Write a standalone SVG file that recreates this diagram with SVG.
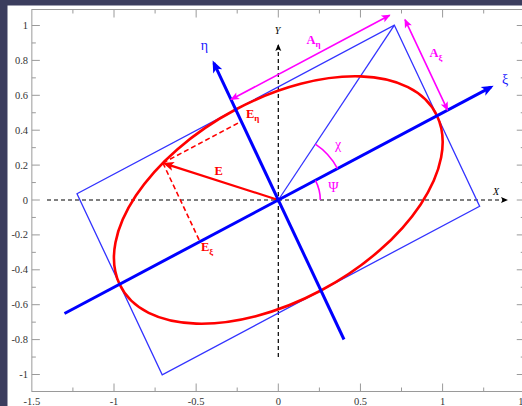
<svg xmlns="http://www.w3.org/2000/svg" width="522" height="406" viewBox="0 0 522 406">
<style>
.tick{stroke:#9a9a9a;stroke-width:1;fill:none}
.tl{font-family:"Liberation Serif",serif;font-size:10.5px;fill:#333}
.g{font-family:"Liberation Serif",serif;font-size:14px}
.b{font-family:"Liberation Serif",serif;font-weight:bold;font-size:12.5px}
.blue{fill:#1a1aff}
.mag{fill:#ff00ff}
.red{fill:#ff0000}
</style>
<defs>
<marker id="ab" viewBox="0 -6 14 12" markerWidth="14" markerHeight="12" refX="9" refY="0" markerUnits="userSpaceOnUse" orient="auto" overflow="visible"><path d="M0,-5 L12,0 L0,5 L3,0 Z" fill="#0000ff"/></marker>
<marker id="am" viewBox="0 -5 10 10" markerWidth="10" markerHeight="10" refX="8" refY="0" markerUnits="userSpaceOnUse" orient="auto-start-reverse" overflow="visible"><path d="M0,-3.8 L9,0 L0,3.8 L2,0 Z" fill="#ff00ff"/></marker>
<marker id="ar" viewBox="0 -6 12 12" markerWidth="12" markerHeight="12" refX="9" refY="0" markerUnits="userSpaceOnUse" orient="auto" overflow="visible"><path d="M0,-4.5 L11,0 L0,4.5 L2.5,0 Z" fill="#ff0000"/></marker>
<marker id="ak" viewBox="0 -4 8 8" markerWidth="8" markerHeight="8" refX="6" refY="0" markerUnits="userSpaceOnUse" orient="auto" overflow="visible"><path d="M0,-3 L7,0 L0,3 L1.5,0 Z" fill="#000"/></marker>
</defs>
<rect x="0" y="0" width="522" height="406" fill="#3b3d5e"/>
<rect x="7.5" y="5.5" width="515" height="401" fill="#ffffff"/>
<g id="frame">
<rect x="31.85" y="9.5" width="492.9" height="382" class="tick"/>
<path class="tick" d="M31.85,25.5h8M31.85,60.4h8M31.85,95.3h8M31.85,130.2h8M31.85,165.1h8M31.85,200h8M31.85,234.9h8M31.85,269.8h8M31.85,304.7h8M31.85,339.6h8M31.85,374.5h8
M31.85,42.95h4M31.85,77.85h4M31.85,112.75h4M31.85,147.65h4M31.85,182.55h4M31.85,217.45h4M31.85,252.35h4M31.85,287.25h4M31.85,322.15h4M31.85,357.05h4
M524.75,25.5h-8M524.75,60.4h-8M524.75,95.3h-8M524.75,130.2h-8M524.75,165.1h-8M524.75,200h-8M524.75,234.9h-8M524.75,269.8h-8M524.75,304.7h-8M524.75,339.6h-8M524.75,374.5h-8
M524.75,42.95h-4M524.75,77.85h-4M524.75,112.75h-4M524.75,147.65h-4M524.75,182.55h-4M524.75,217.45h-4M524.75,252.35h-4M524.75,287.25h-4M524.75,322.15h-4M524.75,357.05h-4
M114,391.5v-8M196.15,391.5v-8M278.3,391.5v-8M360.45,391.5v-8M442.6,391.5v-8
M72.9,391.5v-4M155.1,391.5v-4M237.2,391.5v-4M319.4,391.5v-4M401.5,391.5v-4M483.7,391.5v-4
M114,9.5v8M196.15,9.5v8M278.3,9.5v8M360.45,9.5v8M442.6,9.5v8
M72.9,9.5v4M155.1,9.5v4M237.2,9.5v4M319.4,9.5v4M401.5,9.5v4M483.7,9.5v4"/>
</g>
<g id="tick-labels" class="tl">
<g text-anchor="end">
<text x="28" y="29">1</text>
<text x="28" y="63.9">0.8</text>
<text x="28" y="98.8">0.6</text>
<text x="28" y="133.7">0.4</text>
<text x="28" y="168.6">0.2</text>
<text x="28" y="203.5">0</text>
<text x="28" y="238.4">-0.2</text>
<text x="28" y="273.3">-0.4</text>
<text x="28" y="308.2">-0.6</text>
<text x="28" y="343.1">-0.8</text>
<text x="28" y="378">-1</text>
</g>
<g text-anchor="middle">
<text x="31.85" y="405">-1.5</text>
<text x="114" y="405">-1</text>
<text x="196.15" y="405">-0.5</text>
<text x="278.3" y="405">0</text>
<text x="360.45" y="405">0.5</text>
<text x="442.6" y="405">1</text>
<text x="524.75" y="405">1.5</text>
</g>
</g>
<g id="connectors">
<g id="xy-axes" stroke="#000" stroke-width="1.2" stroke-dasharray="4,3" fill="none">
<line x1="47" y1="200" x2="507" y2="200" marker-end="url(#ak)"/>
<line x1="278.3" y1="357" x2="278.3" y2="45" marker-end="url(#ak)"/>
</g>
<polygon id="box" points="394.38,25.2 479.62,206.24 162.22,374.8 77,193.76" fill="none" stroke="#3333ff" stroke-width="1.3"/>
<line id="diagonal" x1="278.3" y1="200" x2="394.38" y2="25.2" stroke="#3333ff" stroke-width="1.3"/>
<path id="ellipse" d="M437,115.72 C413.46,65.73 323.33,62.93 235.68,109.48 C148.03,156.03 96.06,234.29 119.6,284.28 C143.14,334.27 233.27,337.07 320.92,290.52 C408.57,243.97 460.54,165.71 437,115.72 Z" fill="none" stroke="#ff0000" stroke-width="2.6"/>
<g id="projections" stroke="#ff0000" stroke-width="1.6" stroke-dasharray="5,3" fill="none">
<line x1="162.9" y1="163" x2="241.3" y2="121.3"/>
<line x1="162.9" y1="163" x2="199.9" y2="241.6"/>
</g>
<line id="E-vector" x1="278.3" y1="200" x2="164.8" y2="163.6" stroke="#ff0000" stroke-width="2.2" marker-end="url(#ar)"/>
<line id="xi-axis" x1="64.5" y1="313.5" x2="490.95" y2="87.1" stroke="#0000ff" stroke-width="3" marker-end="url(#ab)"/>
<line id="eta-axis" x1="344" y1="339.5" x2="213.9" y2="63.2" stroke="#0000ff" stroke-width="3" marker-end="url(#ab)"/>
<g id="magenta" stroke="#ff00ff" stroke-width="1.6" fill="none">
<line x1="231" y1="99.5" x2="389.7" y2="15.2" marker-start="url(#am)" marker-end="url(#am)"/>
<line x1="405" y1="19.6" x2="447.6" y2="110.1" marker-start="url(#am)" marker-end="url(#am)"/>
<path d="M320.3,200 A42,42 0 0,0 315.4,180.3"/>
<path d="M337.5,168.6 A67,67 0 0,0 315.4,144.2"/>
</g>
</g>
<g id="labels">
<text x="277.5" y="34" font-family="Liberation Serif,serif" font-style="italic" font-size="10px" text-anchor="middle">Y</text>
<text x="496" y="195" font-family="Liberation Serif,serif" font-style="italic" font-size="10px" text-anchor="middle">X</text>
<text class="g blue" x="505" y="84" text-anchor="middle">ξ</text>
<text class="g blue" x="204.5" y="50" text-anchor="middle">η</text>
<text class="g mag" x="338" y="149" text-anchor="middle">χ</text>
<text class="g mag" x="333.5" y="192" text-anchor="middle">Ψ</text>
<text class="b mag" x="306.5" y="43.5">A<tspan font-size="9px" dy="3">η</tspan></text>
<text class="b mag" x="429.5" y="56.5">A<tspan font-size="9px" dy="4">ξ</tspan></text>
<text class="b red" x="214.5" y="175">E</text>
<text class="b red" x="246" y="118">E<tspan font-size="9px" dy="3">η</tspan></text>
<text class="b red" x="201" y="251">E<tspan font-size="9px" dy="4">ξ</tspan></text>
</g>
</svg>
